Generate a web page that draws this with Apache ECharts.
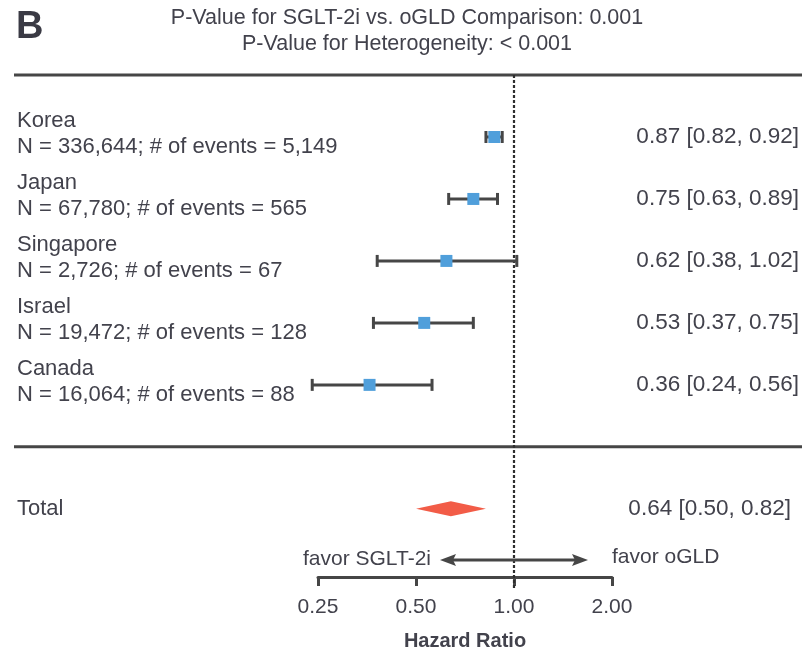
<!DOCTYPE html>
<html>
<head>
<meta charset="utf-8">
<script src="https://cdn.jsdelivr.net/npm/echarts@6/dist/echarts.min.js"></script>
<style>
  html, body { margin: 0; padding: 0; background: #ffffff; }
  #chart { width: 802px; height: 653px; }
</style>
</head>
<body>
<div id="chart"></div>
<script>
// Per-country hazard ratios (SGLT-2i vs. oGLD) with 95% CI
const countries = ['Korea', 'Japan', 'Singapore', 'Israel', 'Canada'];
const sampleN = ['336,644', '67,780', '2,726', '19,472', '16,064'];
const eventCounts = ['5,149', '565', '67', '128', '88'];
const hazardRatio = [0.87, 0.75, 0.62, 0.53, 0.36];
const ciLower = [0.82, 0.63, 0.38, 0.37, 0.24];
const ciUpper = [0.92, 0.89, 1.02, 0.75, 0.56];

// Pooled estimate
const totalHR = 0.64;
const totalLower = 0.50;
const totalUpper = 0.82;

const xTicks = [0.25, 0.5, 1, 2];
const pValueComparison = '0.001';
const pValueHeterogeneity = '< 0.001';

const FONT = '"Liberation Sans", Arial, sans-serif';
const TEXT = '#42424c';
const INK = '#464646';
const TOTAL_ROW = 6;
const Y_MAX = 7.1;

const fmt = v => v.toFixed(2);

const rows = countries.map((c, i) => [ciLower[i], ciUpper[i], hazardRatio[i], i]);

const chart = echarts.init(document.getElementById('chart'), null, { renderer: 'canvas' });

chart.setOption({
  backgroundColor: '#ffffff',
  animation: false,
  grid: { left: 318, right: 190, top: 75, bottom: 76, containLabel: false, outerBoundsMode: 'none' },
  xAxis: {
    type: 'log',
    logBase: 2,
    min: xTicks[0],
    max: xTicks[xTicks.length - 1],
    splitLine: { show: false },
    axisLine: { show: true, onZero: false, lineStyle: { color: INK, width: 3 } },
    axisTick: { show: true, length: 9, lineStyle: { color: INK, width: 3 } },
    axisLabel: {
      margin: 20,
      color: TEXT,
      fontFamily: FONT,
      fontSize: 21,
      formatter: v => fmt(v)
    },
    name: 'Hazard Ratio',
    nameLocation: 'middle',
    nameGap: 54,
    nameTextStyle: { color: TEXT, fontFamily: FONT, fontSize: 20, fontWeight: 'bold' }
  },
  yAxis: {
    type: 'value',
    inverse: true,
    min: -1,
    max: Y_MAX,
    show: false
  },
  series: [
    {
      type: 'custom',
      clip: false,
      data: rows,
      renderItem: (params, api) => {
        const y = api.value(3);
        const lo = api.coord([api.value(0), y]);
        const hi = api.coord([api.value(1), y]);
        const c = api.coord([api.value(2), y]);
        const i = params.dataIndex;
        const lineStyle = { stroke: INK, lineWidth: 3 };
        const sq = 12;
        return {
          type: 'group',
          children: [
            { type: 'line', shape: { x1: lo[0], y1: lo[1], x2: hi[0], y2: hi[1] }, style: lineStyle },
            { type: 'line', shape: { x1: lo[0], y1: lo[1] - 6, x2: lo[0], y2: lo[1] + 6 }, style: lineStyle },
            { type: 'line', shape: { x1: hi[0], y1: hi[1] - 6, x2: hi[0], y2: hi[1] + 6 }, style: lineStyle },
            { type: 'rect', shape: { x: c[0] - sq / 2, y: c[1] - sq / 2, width: sq, height: sq }, style: { fill: '#509fdb' } },
            {
              type: 'text',
              style: {
                text: countries[i], x: 17, y: c[1] - 16,
                fill: TEXT, font: '22px ' + FONT,
                textAlign: 'left', textVerticalAlign: 'middle', align: 'left', verticalAlign: 'middle'
              }
            },
            {
              type: 'text',
              style: {
                text: 'N = ' + sampleN[i] + '; # of events = ' + eventCounts[i], x: 17, y: c[1] + 10,
                fill: TEXT, font: '22px ' + FONT,
                textAlign: 'left', textVerticalAlign: 'middle', align: 'left', verticalAlign: 'middle'
              }
            },
            {
              type: 'text',
              style: {
                text: fmt(hazardRatio[i]) + ' [' + fmt(ciLower[i]) + ', ' + fmt(ciUpper[i]) + ']',
                x: 799, y: c[1],
                fill: TEXT, font: '22.5px ' + FONT,
                textAlign: 'right', textVerticalAlign: 'middle', align: 'right', verticalAlign: 'middle'
              }
            }
          ]
        };
      },
      z: 5
    },
    {
      // pooled estimate drawn as a diamond spanning the CI
      type: 'custom',
      clip: false,
      data: [[totalLower, totalUpper, totalHR, TOTAL_ROW]],
      renderItem: (params, api) => {
        const y = api.value(3);
        const lo = api.coord([api.value(0), y]);
        const hi = api.coord([api.value(1), y]);
        const c = api.coord([api.value(2), y]);
        const h = 7.5;
        return {
          type: 'group',
          children: [
            {
              type: 'polygon',
              shape: { points: [[lo[0], c[1]], [c[0], c[1] - h], [hi[0], c[1]], [c[0], c[1] + h]] },
              style: { fill: '#f25c47' }
            },
            {
              type: 'text',
              style: {
                text: 'Total', x: 17, y: c[1],
                fill: TEXT, font: '22px ' + FONT,
                textAlign: 'left', textVerticalAlign: 'middle', align: 'left', verticalAlign: 'middle'
              }
            },
            {
              type: 'text',
              style: {
                text: fmt(totalHR) + ' [' + fmt(totalLower) + ', ' + fmt(totalUpper) + ']',
                x: 791, y: c[1],
                fill: TEXT, font: '22.5px ' + FONT,
                textAlign: 'right', textVerticalAlign: 'middle', align: 'right', verticalAlign: 'middle'
              }
            }
          ]
        };
      },
      z: 5
    }
  ]
});

// Decorations: separators, reference line, direction arrows and headings
const px = (x, y) => chart.convertToPixel({ gridIndex: 0 }, [x, y]);
const topY = px(1, -1)[1];
const midY = px(1, 5)[1];
const axisY = px(1, Y_MAX)[1];
const refX = px(1, 0)[0];
const arrowY = axisY - 17;
const arrowHalf = 74;

const txt = (text, x, y, size, align, extra) => Object.assign({
  type: 'text',
  style: {
    text, x, y, fill: TEXT, font: size + 'px ' + FONT,
    textAlign: align, textVerticalAlign: 'middle', align: align, verticalAlign: 'middle'
  }
}, extra || {});

chart.setOption({
  graphic: [
    { type: 'line', shape: { x1: 14, y1: topY, x2: 802, y2: topY }, style: { stroke: INK, lineWidth: 3 }, z: 3 },
    { type: 'line', shape: { x1: 14, y1: midY, x2: 802, y2: midY }, style: { stroke: INK, lineWidth: 3 }, z: 3 },
    {
      type: 'line',
      shape: { x1: refX, y1: topY, x2: refX, y2: axisY + 11 },
      style: { stroke: '#2e2e2e', lineWidth: 2.2, lineDash: [3, 2] },
      z: 4
    },
    // two-headed arrow
    { type: 'line', shape: { x1: refX - arrowHalf + 8, y1: arrowY, x2: refX + arrowHalf - 8, y2: arrowY }, style: { stroke: INK, lineWidth: 3 }, z: 4 },
    {
      type: 'polygon',
      shape: { points: [[refX - arrowHalf, arrowY], [refX - arrowHalf + 16, arrowY - 6], [refX - arrowHalf + 13, arrowY], [refX - arrowHalf + 16, arrowY + 6]] },
      style: { fill: INK }, z: 4
    },
    {
      type: 'polygon',
      shape: { points: [[refX + arrowHalf, arrowY], [refX + arrowHalf - 16, arrowY - 6], [refX + arrowHalf - 13, arrowY], [refX + arrowHalf - 16, arrowY + 6]] },
      style: { fill: INK }, z: 4
    },
    txt('favor SGLT-2i', refX - arrowHalf - 9, arrowY - 1, 21, 'right'),
    txt('favor oGLD', refX + arrowHalf + 24, arrowY - 3, 21, 'left'),
    // headings
    {
      type: 'text',
      style: {
        text: 'B', x: 16, y: 28, fill: '#3a3a44', font: 'bold 38px ' + FONT,
        textAlign: 'left', textVerticalAlign: 'middle', align: 'left', verticalAlign: 'middle'
      }
    },
    txt('P-Value for SGLT-2i vs. oGLD Comparison: ' + pValueComparison, 407, 18, 21.5, 'center'),
    txt('P-Value for Heterogeneity: ' + pValueHeterogeneity, 407, 44, 21.5, 'center')
  ]
});
</script>
</body>
</html>
